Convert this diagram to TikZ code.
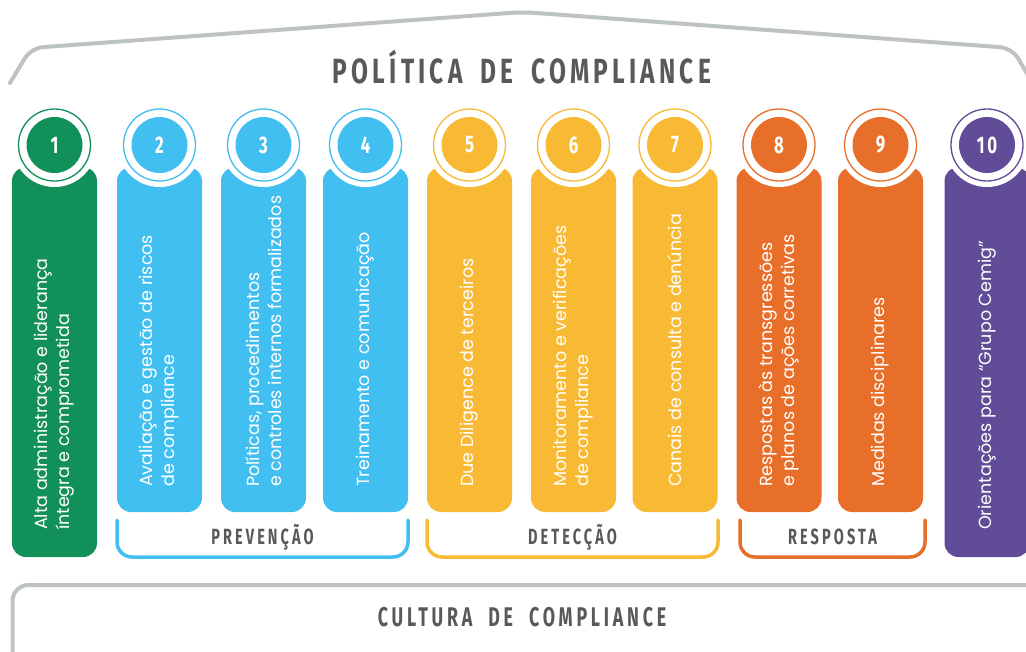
\documentclass[tikz,border=0pt]{standalone}
\usepackage{fontspec}
\setmainfont{Poppins}
\newfontfamily\headfont{Fira Sans}[FakeStretch=0.70,LetterSpace=12,WordSpace=1.8]
\newfontfamily\labelfont{Fira Sans}[FakeStretch=0.66,LetterSpace=14,WordSpace=2]
\definecolor{pgreen}{HTML}{12905A}
\definecolor{pblue}{HTML}{41BFF0}
\definecolor{pyellow}{HTML}{F8B934}
\definecolor{porange}{HTML}{E76F2A}
\definecolor{ppurple}{HTML}{614C97}
\definecolor{linegray}{HTML}{BDC3C3}
\definecolor{textgray}{HTML}{59595C}
\begin{document}
\begin{tikzpicture}[x=1pt,y=-1pt,
    roof/.style={draw=linegray,line width=4pt,line cap=round,rounded corners=12pt},
    colbox/.style={rounded corners=14pt},
    bite/.style={circle,fill=white,minimum size=84pt,inner sep=0pt},
    ring/.style={circle,draw,line width=1.3pt,minimum size=72pt,inner sep=0pt},
    numdisk/.style={circle,minimum size=56pt,inner sep=0pt,text=white,
      font=\headfont\bfseries\fontsize{24}{24}\selectfont},
    coltext/.style={rotate=90,anchor=west,align=left,inner sep=0pt,text=white,
      font=\fontsize{17.5}{22}\selectfont},
    bracket/.style={line width=3.5pt,line cap=round,rounded corners=15pt},
    grouplabel/.style={text=textgray,font=\labelfont\bfseries\fontsize{22}{22}\selectfont},
    biglabel/.style={text=textgray,font=\headfont\bfseries\fontsize{35}{35}\selectfont}]
  \useasboundingbox (0,0) rectangle (1026,651);

  \draw [roof] (10,83) -- (31,48) -- (523,12) -- (1012,48) -- (1032,82);
  \node [biglabel] (politica) at (522,67) {POLÍTICA DE COMPLIANCE};

  \fill [pgreen,colbox] (12,167) rectangle (97,557);
  \node [bite] (b1) at (54.5,145) {};
  \node [ring,draw=pgreen] (r1) at (54.5,145) {};
  \node [numdisk,fill=pgreen] (n1) at (54.5,145) {1};
  \node [coltext] (t1) at (54.5,530) {Alta administração e liderança\\íntegra e comprometida};

  \fill [pblue,colbox] (117,167) rectangle (202,512);
  \node [bite] (b2) at (159.5,145) {};
  \node [ring,draw=pblue] (r2) at (159.5,145) {};
  \node [numdisk,fill=pblue] (n2) at (159.5,145) {2};
  \node [coltext] (t2) at (159.5,487) {Avaliação e gestão de riscos\\de compliance};

  \fill [pblue,colbox] (221,167) rectangle (306,512);
  \node [bite] (b3) at (263.5,145) {};
  \node [ring,draw=pblue] (r3) at (263.5,145) {};
  \node [numdisk,fill=pblue] (n3) at (263.5,145) {3};
  \node [coltext] (t3) at (263.5,487) {Políticas, procedimentos\\e controles internos formalizados};

  \fill [pblue,colbox] (323,167) rectangle (408,512);
  \node [bite] (b4) at (365.5,145) {};
  \node [ring,draw=pblue] (r4) at (365.5,145) {};
  \node [numdisk,fill=pblue] (n4) at (365.5,145) {4};
  \node [coltext] (t4) at (365.5,487) {Treinamento e comunicação};

  \fill [pyellow,colbox] (427,167) rectangle (512,512);
  \node [bite] (b5) at (469.5,145) {};
  \node [ring,draw=pyellow] (r5) at (469.5,145) {};
  \node [numdisk,fill=pyellow] (n5) at (469.5,145) {5};
  \node [coltext] (t5) at (469.5,487) {Due Diligence de terceiros};

  \fill [pyellow,colbox] (531,167) rectangle (616,512);
  \node [bite] (b6) at (573.5,145) {};
  \node [ring,draw=pyellow] (r6) at (573.5,145) {};
  \node [numdisk,fill=pyellow] (n6) at (573.5,145) {6};
  \node [coltext] (t6) at (573.5,487) {Monitoramento e verificações\\de compliance};

  \fill [pyellow,colbox] (632.5,167) rectangle (717.5,512);
  \node [bite] (b7) at (675,145) {};
  \node [ring,draw=pyellow] (r7) at (675,145) {};
  \node [numdisk,fill=pyellow] (n7) at (675,145) {7};
  \node [coltext] (t7) at (675,487) {Canais de consulta e denúncia};

  \fill [porange,colbox] (736.5,167) rectangle (821.5,512);
  \node [bite] (b8) at (779,145) {};
  \node [ring,draw=porange] (r8) at (779,145) {};
  \node [numdisk,fill=porange] (n8) at (779,145) {8};
  \node [coltext] (t8) at (779,487) {Respostas às transgressões\\e planos de ações corretivas};

  \fill [porange,colbox] (838,167) rectangle (923,512);
  \node [bite] (b9) at (880.5,145) {};
  \node [ring,draw=porange] (r9) at (880.5,145) {};
  \node [numdisk,fill=porange] (n9) at (880.5,145) {9};
  \node [coltext] (t9) at (880.5,487) {Medidas disciplinares};

  \fill [ppurple,colbox] (944.5,167) rectangle (1029.5,557);
  \node [bite] (b10) at (987,145) {};
  \node [ring,draw=ppurple] (r10) at (987,145) {};
  \node [numdisk,fill=ppurple] (n10) at (987,145) {10};
  \node [coltext] (t10) at (987,530) {Orientações para “Grupo Cemig”};

  \draw [bracket,draw=pblue] (117,520) -- (117,557) -- (408,557) -- (408,520);
  \node [grouplabel] (prevencao) at (262.5,537) {PREVENÇÃO};
  \draw [bracket,draw=pyellow] (427,520) -- (427,557) -- (718,557) -- (718,520);
  \node [grouplabel] (deteccao) at (572.5,537) {DETECÇÃO};
  \draw [bracket,draw=porange] (740,520) -- (740,557) -- (925,557) -- (925,520);
  \node [grouplabel] (resposta) at (832.5,537) {RESPOSTA};

  \draw [draw=linegray,line width=4pt,rounded corners=16pt] (12.5,585) rectangle (1040,680);
  \node [grouplabel,font=\labelfont\bfseries\fontsize{27}{27}\selectfont] (cultura) at (522,617) {CULTURA DE COMPLIANCE};
\end{tikzpicture}
\end{document}
